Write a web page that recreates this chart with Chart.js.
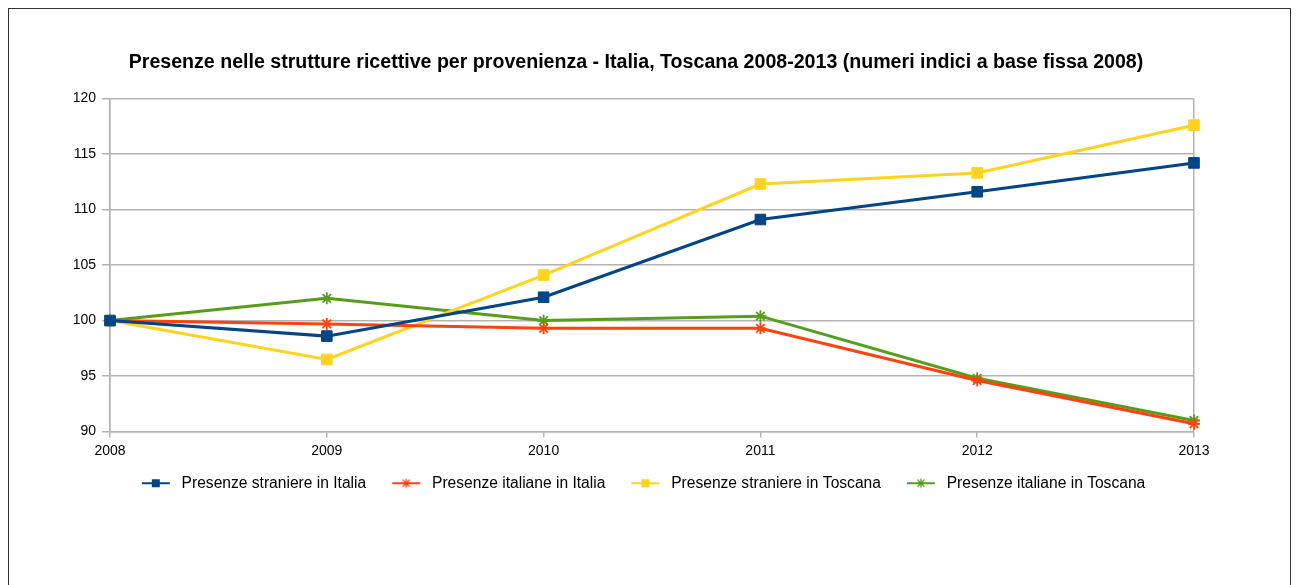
<!DOCTYPE html>
<html>
<head>
<meta charset="utf-8">
<script src="https://cdn.jsdelivr.net/npm/chart.js@4"></script>
<style>
  body { margin: 0; background: #fff; }
  #frame { position: absolute; left: 8px; top: 8px; width: 1281px; height: 600px; border: 1px solid #333; }
  #chart { position: absolute; left: 0; top: 0; }
</style>
</head>
<body>
<div id="frame"><canvas id="chart" width="1256" height="576"></canvas></div>
<script>
// Index numbers, base 2008 = 100
const years = ['2008', '2009', '2010', '2011', '2012', '2013'];
const stranieriItalia = [100, 98.6, 102.1, 109.1, 111.6, 114.2];
const italianiItalia = [100, 99.7, 99.3, 99.3, 94.6, 90.7];
const stranieriToscana = [100, 96.5, 104.1, 112.3, 113.3, 117.6];
const italianiToscana = [100, 102.0, 100.0, 100.4, 94.8, 91.0];

const gridColor = '#b3b3b3';
const fontFamily = 'Liberation Sans, Arial, sans-serif';

// line + marker swatch for the legend (line sits on the right side of the box)
function swatch(color, style) {
    const c = document.createElement('canvas');
    c.width = 47; c.height = 12;
    const g = c.getContext('2d');
    const x0 = 15, x1 = 43, mid = 29;
    g.strokeStyle = color;
    g.lineWidth = 2;
    g.beginPath(); g.moveTo(x0, 6); g.lineTo(x1, 6); g.stroke();
    if (style === 'rect') {
        g.fillStyle = color;
        g.fillRect(mid - 4, 2, 8, 8);
    } else {
        g.lineWidth = 1.3;
        g.beginPath();
        g.moveTo(mid, 1.5); g.lineTo(mid, 10.5);
        g.moveTo(mid - 3.5, 2.5); g.lineTo(mid + 3.5, 9.5);
        g.moveTo(mid + 3.5, 2.5); g.lineTo(mid - 3.5, 9.5);
        g.stroke();
    }
    return c;
}

function series(label, data, color, style) {
    return {
        label: label,
        data: data,
        borderColor: color,
        backgroundColor: color,
        borderWidth: 3,
        pointStyle: style,
        pointRadius: style === 'rect' ? 7.5 : 6,
        pointBorderWidth: style === 'rect' ? 1 : 1.8,
        pointHoverRadius: 7,
        tension: 0,
        swatch: swatch(color, style)
    };
}

// title and legend are centred a bit right of the plot's own centre
const shiftBoxes = {
    id: 'shiftBoxes',
    afterLayout(chart) {
        [chart.titleBlock, chart.legend].forEach(b => {
            if (b) { b.left += 34.5; b.right += 34.5; }
        });
    }
};

const ctx = document.getElementById('chart').getContext('2d');

new Chart(ctx, {
    type: 'line',
    data: {
        labels: years,
        datasets: [
            series('Presenze straniere in Italia', stranieriItalia, '#004586', 'rect'),
            series('Presenze italiane in Italia', italianiItalia, '#ff420e', 'star'),
            series('Presenze straniere in Toscana', stranieriToscana, '#ffd320', 'rect'),
            series('Presenze italiane in Toscana', italianiToscana, '#579d1c', 'star')
        ]
    },
    plugins: [shiftBoxes],
    options: {
        responsive: false,
        animation: false,
        layout: { padding: { left: 0, right: 71, top: 0, bottom: 84 } },
        plugins: {
            title: {
                display: true,
                text: 'Presenze nelle strutture ricettive per provenienza - Italia, Toscana 2008-2013 (numeri indici a base fissa 2008)',
                color: '#000',
                font: { family: fontFamily, size: 19.6, weight: 'bold' },
                padding: { top: 41.5, bottom: 24.5 }
            },
            legend: {
                position: 'bottom',
                labels: {
                    color: '#000',
                    font: { family: fontFamily, size: 15.6 },
                    usePointStyle: true,
                    pointStyleWidth: 47,
                    padding: 11,
                    generateLabels: chart => chart.data.datasets.map((ds, i) => ({
                        text: ds.label,
                        pointStyle: ds.swatch,
                        fillStyle: ds.borderColor,
                        strokeStyle: ds.borderColor,
                        lineWidth: 0,
                        datasetIndex: i,
                        hidden: false
                    }))
                }
            },
            tooltip: { enabled: true }
        },
        scales: {
            x: {
                offset: false,
                grid: {
                    color: c => (c.index === 0 || c.index === years.length - 1) ? gridColor : 'rgba(0,0,0,0)',
                    tickColor: gridColor,
                    tickLength: 6,
                    lineWidth: 1.5
                },
                border: { color: gridColor, width: 1.5 },
                ticks: {
                    color: '#000',
                    padding: 5,
                    maxRotation: 0,
                    font: { family: fontFamily, size: 14 }
                }
            },
            y: {
                min: 90,
                max: 120,
                afterFit: scale => { scale.width = 101; },
                grid: { color: gridColor, tickColor: gridColor, tickLength: 8, lineWidth: 1.5 },
                border: { color: gridColor, width: 1.5 },
                ticks: {
                    stepSize: 5,
                    color: '#000',
                    padding: 6,
                    font: { family: fontFamily, size: 14 }
                }
            }
        }
    }
});
</script>
</body>
</html>
